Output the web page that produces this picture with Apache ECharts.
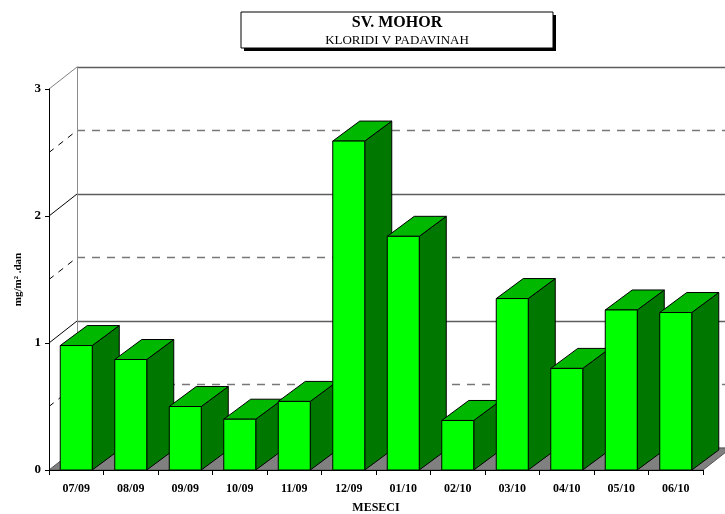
<!DOCTYPE html>
<html>
<head>
<meta charset="utf-8">
<script src="https://cdn.jsdelivr.net/npm/echarts@6/dist/echarts.min.js"></script>
<style>
  html, body { margin: 0; padding: 0; background: #fff; }
  #chart { width: 725px; height: 514px; }
</style>
</head>
<body>
<div id="chart"></div>
<script>
// Monthly chloride deposition in precipitation, Sv. Mohor
const months = ['07/09', '08/09', '09/09', '10/09', '11/09', '12/09', '01/10', '02/10', '03/10', '04/10', '05/10', '06/10'];
const chlorides = [0.98, 0.87, 0.50, 0.40, 0.54, 2.59, 1.84, 0.39, 1.35, 0.80, 1.26, 1.24];
const yTicks = [0, 1, 2, 3];
const wallLevels = [0.5, 1, 1.5, 2, 2.5, 3];

const SERIF = '"Liberation Serif", "Times New Roman", serif';
const WALL_DX = 28, WALL_DY = -22;   // depth of the back wall
const BAR_DX = 27, BAR_DY = -20;     // depth of each bar
const BAR_W = 32;

const chart = echarts.init(document.getElementById('chart'), null, { renderer: 'canvas' });

function axisEdges(api) {
  const half = api.size([1, 0])[0] / 2;
  const left = api.coord([0, 0])[0] - half;
  const right = api.coord([months.length - 1, 0])[0] + half;
  return [left, right];
}

// floor plus the oblique connectors between the front axis and the back wall
function renderFrame(params, api) {
  const [xl, xr] = axisEdges(api);
  const y0 = api.coord([0, 0])[1];
  const children = [{
    type: 'polygon',
    shape: { points: [[xl, y0], [xr, y0], [xr + WALL_DX, y0 + WALL_DY], [xl + WALL_DX, y0 + WALL_DY]] },
    style: { fill: '#808080', stroke: '#555', lineWidth: 1 }
  }];
  wallLevels.forEach(function (lv) {
    const y = api.coord([0, lv])[1];
    const whole = Math.abs(lv - Math.round(lv)) < 1e-6;
    children.push({
      type: 'line',
      shape: { x1: xl, y1: y, x2: xl + WALL_DX, y2: y + WALL_DY },
      style: {
        stroke: lv === 3 ? '#808080' : '#000',
        lineWidth: 1,
        lineDash: whole ? null : [6, 6]
      }
    });
  });
  return { type: 'group', children: children };
}

function renderBar(params, api) {
  const i = api.value(0);
  const v = api.value(1);
  const base = api.coord([i, 0]);
  const top = api.coord([i, v]);
  const x0 = base[0] - BAR_W / 2;
  const x1 = x0 + BAR_W;
  const yt = top[1], yb = base[1];
  const edge = { stroke: '#000', lineWidth: 1 };
  return {
    type: 'group',
    children: [
      {
        type: 'polygon',
        shape: { points: [[x1, yt], [x1 + BAR_DX, yt + BAR_DY], [x1 + BAR_DX, yb + BAR_DY], [x1, yb]] },
        style: Object.assign({ fill: '#007800' }, edge)
      },
      {
        type: 'polygon',
        shape: { points: [[x0, yt], [x0 + BAR_DX, yt + BAR_DY], [x1 + BAR_DX, yt + BAR_DY], [x1, yt]] },
        style: Object.assign({ fill: '#00B800' }, edge)
      },
      {
        type: 'rect',
        shape: { x: x0, y: yt, width: BAR_W, height: yb - yt },
        style: Object.assign({ fill: '#00FF00' }, edge)
      }
    ]
  };
}

const option = {
  backgroundColor: '#fff',
  animation: false,
  textStyle: { fontFamily: SERIF },
  grid: [
    { left: 49, top: 89, width: 654, height: 381, containLabel: false, outerBoundsMode: 'none' },
    { left: 49 + WALL_DX, top: 89 + WALL_DY, width: 654, height: 381, containLabel: false, outerBoundsMode: 'none' }
  ],
  xAxis: [
    {
      type: 'category', gridIndex: 0, data: months, boundaryGap: true,
      axisLine: { lineStyle: { color: '#000', width: 1 } },
      axisTick: { show: true, interval: 0, length: 5, lineStyle: { color: '#000' } },
      axisLabel: { interval: 0, margin: 13, color: '#000', fontFamily: SERIF, fontWeight: 'bold', fontSize: 12 },
      name: 'MESECI', nameLocation: 'middle', nameGap: 32,
      nameTextStyle: { color: '#000', fontFamily: SERIF, fontWeight: 'bold', fontSize: 12 },
      z: 5
    },
    {
      type: 'category', gridIndex: 1, data: months, show: false
    }
  ],
  yAxis: [
    {
      type: 'value', gridIndex: 0, min: 0, max: 3, interval: 1,
      axisLine: { show: true, lineStyle: { color: '#000', width: 1 } },
      axisTick: { show: true, length: 4, lineStyle: { color: '#000' } },
      splitLine: { show: false },
      axisLabel: {
        margin: 8, color: '#000', fontFamily: SERIF, fontWeight: 'bold', fontSize: 13,
        formatter: function (v) { return yTicks.indexOf(v) >= 0 ? String(v) : ''; }
      },
      name: 'mg/m\u00B2 .dan', nameLocation: 'middle', nameRotate: 90, nameGap: 24,
      nameTextStyle: { color: '#000', fontFamily: SERIF, fontWeight: 'bold', fontSize: 11 },
      z: 5
    },
    {
      type: 'value', gridIndex: 1, min: 0, max: 3, interval: 1,
      axisLine: { show: true, lineStyle: { color: '#8c8c8c', width: 1 } },
      axisTick: { show: false },
      axisLabel: { show: false },
      splitLine: { show: true, lineStyle: { color: '#5e5e5e', width: 1.4 } },
      minorTick: { show: false, splitNumber: 2 },
      minorSplitLine: { show: true, lineStyle: { color: '#777', width: 1.3, type: [8, 7] } }
    }
  ],
  graphic: [
    { type: 'rect', shape: { x: 244, y: 15, width: 312, height: 36 }, style: { fill: '#000' }, z: 10 },
    { type: 'rect', shape: { x: 241, y: 12, width: 312, height: 36 }, style: { fill: '#fff', stroke: '#000', lineWidth: 1 }, z: 11 },
    {
      type: 'text', x: 397, y: 23, z: 12,
      style: { text: 'SV. MOHOR', font: 'bold 16px ' + SERIF, fill: '#000', align: 'center', verticalAlign: 'middle' }
    },
    {
      type: 'text', x: 397, y: 41, z: 12,
      style: { text: 'KLORIDI V PADAVINAH', font: '13px ' + SERIF, fill: '#000', align: 'center', verticalAlign: 'middle' }
    }
  ],
  series: [
    {
      type: 'custom', xAxisIndex: 0, yAxisIndex: 0,
      renderItem: renderFrame, data: [[0, 0]], silent: true, z: 1
    },
    {
      type: 'custom', xAxisIndex: 0, yAxisIndex: 0,
      renderItem: renderBar,
      data: chlorides.map(function (v, i) { return [i, v]; }),
      z: 3
    }
  ]
};

chart.setOption(option);
</script>
</body>
</html>
